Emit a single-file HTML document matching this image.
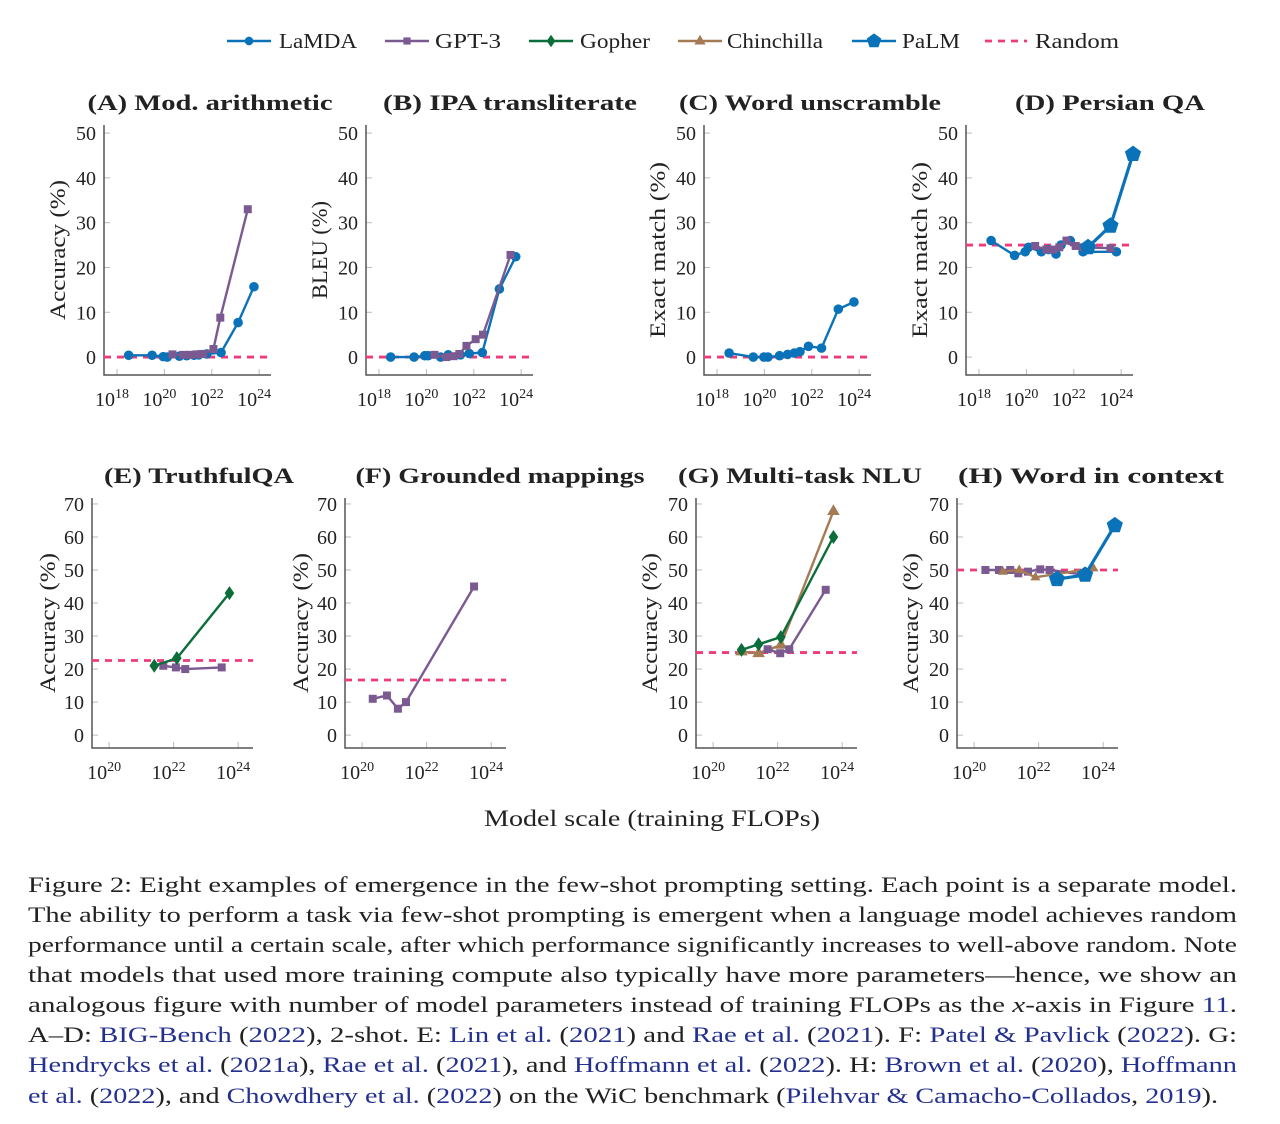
<!DOCTYPE html>
<html><head><meta charset="utf-8"><style>
html,body{margin:0;padding:0;background:#fff;}
svg{display:block;font-family:"Liberation Serif",serif;}
</style></head><body>
<svg id="fig" width="1280" height="1124" viewBox="0 0 1280 1124" xmlns="http://www.w3.org/2000/svg">
<g id="legend"></g>
<g id="panels"></g>
<text x="652" y="826" font-size="23" text-anchor="middle" fill="#222" textLength="336" lengthAdjust="spacingAndGlyphs">Model scale (training FLOPs)</text>
<g font-size="22" fill="#222">
<text x="28" y="892" textLength="1209" lengthAdjust="spacingAndGlyphs">Figure 2: Eight examples of emergence in the few-shot prompting setting. Each point is a separate model.</text>
<text x="28" y="922" textLength="1209" lengthAdjust="spacingAndGlyphs">The ability to perform a task via few-shot prompting is emergent when a language model achieves random</text>
<text x="28" y="952" textLength="1209" lengthAdjust="spacingAndGlyphs">performance until a certain scale, after which performance significantly increases to well-above random. Note</text>
<text x="28" y="982" textLength="1209" lengthAdjust="spacingAndGlyphs">that models that used more training compute also typically have more parameters—hence, we show an</text>
<text x="28" y="1012" textLength="1209" lengthAdjust="spacingAndGlyphs">analogous figure with number of model parameters instead of training FLOPs as the <tspan font-style="italic">x</tspan>-axis in Figure <tspan fill="#24308f">11</tspan>.</text>
<text x="28" y="1042" textLength="1209" lengthAdjust="spacingAndGlyphs">A–D: <tspan fill="#24308f">BIG-Bench</tspan> (<tspan fill="#24308f">2022</tspan>), 2-shot. E: <tspan fill="#24308f">Lin et al.</tspan> (<tspan fill="#24308f">2021</tspan>) and <tspan fill="#24308f">Rae et al.</tspan> (<tspan fill="#24308f">2021</tspan>). F: <tspan fill="#24308f">Patel &amp; Pavlick</tspan> (<tspan fill="#24308f">2022</tspan>). G:</text>
<text x="28" y="1072" textLength="1209" lengthAdjust="spacingAndGlyphs"><tspan fill="#24308f">Hendrycks et al.</tspan> (<tspan fill="#24308f">2021a</tspan>), <tspan fill="#24308f">Rae et al.</tspan> (<tspan fill="#24308f">2021</tspan>), and <tspan fill="#24308f">Hoffmann et al.</tspan> (<tspan fill="#24308f">2022</tspan>). H: <tspan fill="#24308f">Brown et al.</tspan> (<tspan fill="#24308f">2020</tspan>), <tspan fill="#24308f">Hoffmann</tspan></text>
<text x="28" y="1103" textLength="1190" lengthAdjust="spacingAndGlyphs"><tspan fill="#24308f">et al.</tspan> (<tspan fill="#24308f">2022</tspan>), and <tspan fill="#24308f">Chowdhery et al.</tspan> (<tspan fill="#24308f">2022</tspan>) on the WiC benchmark (<tspan fill="#24308f">Pilehvar &amp; Camacho-Collados</tspan>, <tspan fill="#24308f">2019</tspan>).</text>
</g>
</svg>
<script>
// ---- data (x = log10 FLOPs, y = metric %) ----
const aLamdaX=[18.49,19.48,19.95,20.12,20.63,20.94,21.25,21.45,21.79,22.39,23.11,23.78];
const aLamdaY=[0.4,0.4,0.1,0,0.2,0.3,0.4,0.5,0.7,1.0,7.7,15.7];
const aGptX=[20.34,20.8,21.08,21.36,21.64,22.07,22.36,23.52];
const aGptY=[0.6,0.5,0.5,0.6,0.7,1.8,8.8,33];
const bLamdaX=[18.49,19.48,19.93,20.07,20.6,20.92,21.44,21.81,22.36,23.08,23.77];
const bLamdaY=[0,0,0.3,0.3,0,0.5,0.5,0.8,1.0,15.2,22.4];
const bGptX=[20.34,20.84,21.15,21.39,21.69,22.08,22.39,23.55];
const bGptY=[0.5,0,0.2,0.7,2.5,4,5,22.8];
const cLamdaX=[18.51,19.53,19.98,20.15,20.64,20.98,21.26,21.5,21.86,22.41,23.12,23.78];
const cLamdaY=[0.9,0,0,0,0.3,0.6,0.9,1.2,2.4,2.0,10.7,12.3];
const dLamdaX=[18.51,19.5,19.95,20.09,20.63,20.94,21.25,21.46,21.85,22.39,23.8];
const dLamdaY=[26,22.7,23.5,24.5,23.5,24,23,25,26,23.5,23.5];
const dGptX=[20.37,20.84,21.15,21.39,21.69,22.08,22.39,23.55];
const dGptY=[24.8,24,24,24.5,26,24.8,24.5,24.3];
const dPalmX=[22.6,23.55,24.5];
const dPalmY=[24.5,29.3,45.3];
const eGopherX=[21.4,22.1,23.73];
const eGopherY=[21,23.3,43];
const eGptX=[21.68,22.07,22.36,23.49];
const eGptY=[21,20.5,20,20.5];
const fGptX=[20.33,20.77,21.11,21.36,23.47];
const fGptY=[11,12,8,10,45];
const gChinX=[20.88,21.41,22.1,23.73];
const gChinY=[25.3,24.8,27.3,67.8];
const gGopherX=[20.88,21.41,22.1,23.73];
const gGopherY=[25.8,27.5,29.7,60];
const gGptX=[21.69,22.08,22.36,23.49];
const gGptY=[26,24.8,26,44];
const hGptX=[20.35,20.77,21.12,21.37,21.67,22.05,22.34,23.47];
const hGptY=[50,50,50,49,49.5,50.2,50,48.5];
const hChinX=[20.89,21.4,21.9,23.7];
const hChinY=[49.5,50,47.8,50.5];
const hPalmX=[22.57,23.44,24.36];
const hPalmY=[47.2,48.5,63.5];
const randomY=[0,0,0,25,22.6,16.7,25,50];
const topYTicks=[0,10,20,30,40,50];
const botYTicks=[0,10,20,30,40,50,60,70];
const topXTicks=[18,20,22,24];
const botXTicks=[20,22,24];
const titles=["(A) Mod. arithmetic","(B) IPA transliterate","(C) Word unscramble","(D) Persian QA","(E) TruthfulQA","(F) Grounded mappings","(G) Multi-task NLU","(H) Word in context"];
const yTitles=["Accuracy (%)","BLEU (%)","Exact match (%)","Exact match (%)","Accuracy (%)","Accuracy (%)","Accuracy (%)","Accuracy (%)"];

const NS="http://www.w3.org/2000/svg";
const C={lamda:"#0a72b8",gpt:"#7b5a91",gopher:"#0b6e3a",chin:"#a57b55",palm:"#0a72b8",rand:"#f03a7c"};
function mk(tag,attrs,parent){const e=document.createElementNS(NS,tag);for(const k in attrs)e.setAttribute(k,attrs[k]);parent.appendChild(e);return e;}
function marker(g,type,x,y,color,s){
  let e;
  if(type==="circle"){e=mk("circle",{cx:x,cy:y,r:4.8*s,fill:color},g);}
  else if(type==="square"){e=mk("rect",{x:x-4*s,y:y-4*s,width:8*s,height:8*s,fill:color},g);}
  else if(type==="diamond"){const w=4.8*s,h=7*s;e=mk("polygon",{points:`${x},${y-h} ${x+w},${y} ${x},${y+h} ${x-w},${y}`,fill:color},g);}
  else if(type==="triangle"){const r=7*s;e=mk("polygon",{points:`${x},${y-r} ${x+r*0.9},${y+r*0.55} ${x-r*0.9},${y+r*0.55}`,fill:color},g);}
  else {const r=8.5*s;let p=[];for(let i=0;i<5;i++){const a=-Math.PI/2+i*2*Math.PI/5;p.push((x+r*Math.cos(a)).toFixed(1)+","+(y+r*Math.sin(a)).toFixed(1));}e=mk("polygon",{points:p.join(" "),fill:color},g);}
  return e;
}
const topRow={top:125,bottom:375,ymin:-4,ymax:51.8,xmin:17.45,xmax:24.5,w:167};
const botRow={top:498,bottom:748,ymin:-3.9,ymax:71.8,xmin:19.47,xmax:24.46,w:161};
const panelDefs=[
 {row:topRow,left:104,tx:210,tw:245,ylx:60,ylw:140,series:[["lamda","circle",aLamdaX,aLamdaY,1],["gpt","square",aGptX,aGptY,1]]},
 {row:topRow,left:366,tx:510,tw:254,ylx:322,ylw:98,series:[["lamda","circle",bLamdaX,bLamdaY,1],["gpt","square",bGptX,bGptY,1]]},
 {row:topRow,left:704,tx:810,tw:262,ylx:660,ylw:176,series:[["lamda","circle",cLamdaX,cLamdaY,1]]},
 {row:topRow,left:966,tx:1110,tw:190,ylx:922,ylw:176,series:[["lamda","circle",dLamdaX,dLamdaY,1],["gpt","square",dGptX,dGptY,1],["palm","pentagon",dPalmX,dPalmY,1]]},
 {row:botRow,left:92,tx:199,tw:190,ylx:50,ylw:140,series:[["gpt","square",eGptX,eGptY,1],["gopher","diamond",eGopherX,eGopherY,1]]},
 {row:botRow,left:345,tx:500,tw:289,ylx:303,ylw:140,series:[["gpt","square",fGptX,fGptY,1]]},
 {row:botRow,left:696,tx:800,tw:244,ylx:652,ylw:140,series:[["chin","triangle",gChinX,gChinY,1],["gpt","square",gGptX,gGptY,1],["gopher","diamond",gGopherX,gGopherY,1]]},
 {row:botRow,left:957,tx:1091,tw:266,ylx:913,ylw:140,series:[["gpt","square",hGptX,hGptY,1],["chin","triangle",hChinX,hChinY,0.8],["palm","pentagon",hPalmX,hPalmY,1]]}
];
const panels=document.getElementById("panels");
panelDefs.forEach((p,i)=>{
  const R=p.row,L=p.left,Rt=L+R.w;
  const xs=v=>L+(v-R.xmin)/(R.xmax-R.xmin)*R.w;
  const ys=v=>R.bottom-(v-R.ymin)/(R.ymax-R.ymin)*(R.bottom-R.top);
  const g=mk("g",{},panels);
  
  
  const t=mk("text",{x:p.tx,y:R===topRow?110:483,"font-size":22,"font-weight":"bold","text-anchor":"middle",fill:"#222",textLength:p.tw,lengthAdjust:"spacingAndGlyphs"},g);
  t.textContent=titles[i];
  
  
  const cy=(R.top+R.bottom)/2;
  const yl=mk("text",{x:p.ylx,y:cy,"font-size":22,"text-anchor":"middle",fill:"#222",transform:`rotate(-90 ${p.ylx} ${cy})`,"dominant-baseline":"middle",textLength:p.ylw,lengthAdjust:"spacingAndGlyphs"},g);
  yl.textContent=yTitles[i];
  
  
  const yt=R===topRow?topYTicks:botYTicks, xt=R===topRow?topXTicks:botXTicks;
  yt.forEach(v=>{
    mk("line",{x1:L,x2:L+6,y1:ys(v),y2:ys(v),stroke:"#bbb","stroke-width":1},g);
    const tl=mk("text",{x:L-8,y:ys(v)+7,"font-size":20,"text-anchor":"end",fill:"#222"},g);
    tl.textContent=v;
    
    
  });
  xt.forEach(v=>{
    mk("line",{x1:xs(v),x2:xs(v),y1:R.bottom,y2:R.bottom-6,stroke:"#bbb","stroke-width":1},g);
    const tl=mk("text",{x:xs(v)-5,y:R.bottom+31,"font-size":20,"text-anchor":"middle",fill:"#222"},g);
    tl.innerHTML="10<tspan dy='-8' font-size='14'>"+v+"</tspan>";
    
    
  });
  const ax=mk("path",{d:`M${L},${R.top} V${R.bottom} H${Rt}`,fill:"none",stroke:"#555","stroke-width":1.5},g);
  
  
  const rl=mk("line",{x1:L,x2:Rt,y1:ys(randomY[i]),y2:ys(randomY[i]),stroke:C.rand,"stroke-width":2.8,"stroke-dasharray":"7,6"},g);
  
  
  p.series.forEach(s=>{
    const [key,type,X,Y,sc]=s;
    const sg=mk("g",{},g);
    
    
    const pts=X.map((x,j)=>xs(x).toFixed(1)+","+ys(Y[j]).toFixed(1)).join(" ");
    mk("polyline",{points:pts,fill:"none",stroke:C[key],"stroke-width":key==="palm"?3.2:2.4},sg);
    X.forEach((x,j)=>{
      const m=marker(sg,type,xs(x),ys(Y[j]),C[key],sc);
      
      
    });
  });
});
const lg=document.getElementById("legend");
const legendItems=[["LaMDA","lamda","circle",227,279,78],["GPT-3","gpt","square",385,435,66],["Gopher","gopher","diamond",529,580,70],["Chinchilla","chin","triangle",678,727,96],["PaLM","palm","pentagon",852,902,58],["Random","rand","dash",985,1035,84]];
legendItems.forEach(it=>{
  const [name,key,type,x0,tx,tw]=it;
  const g=mk("g",{},lg);
  
  
  const y=41;
  if(type==="dash"){mk("line",{x1:x0,x2:x0+42,y1:y,y2:y,stroke:C.rand,"stroke-width":2.8,"stroke-dasharray":"7,6"},g);}
  else{mk("line",{x1:x0,x2:x0+44,y1:y,y2:y,stroke:C[key],"stroke-width":2.4},g);marker(g,type,x0+22,y,C[key],0.9);}
  const t=mk("text",{x:tx,y:y+7,"font-size":21,fill:"#222",textLength:tw,lengthAdjust:"spacingAndGlyphs"},g);
  t.textContent=name;
});
</script>
</body></html>
